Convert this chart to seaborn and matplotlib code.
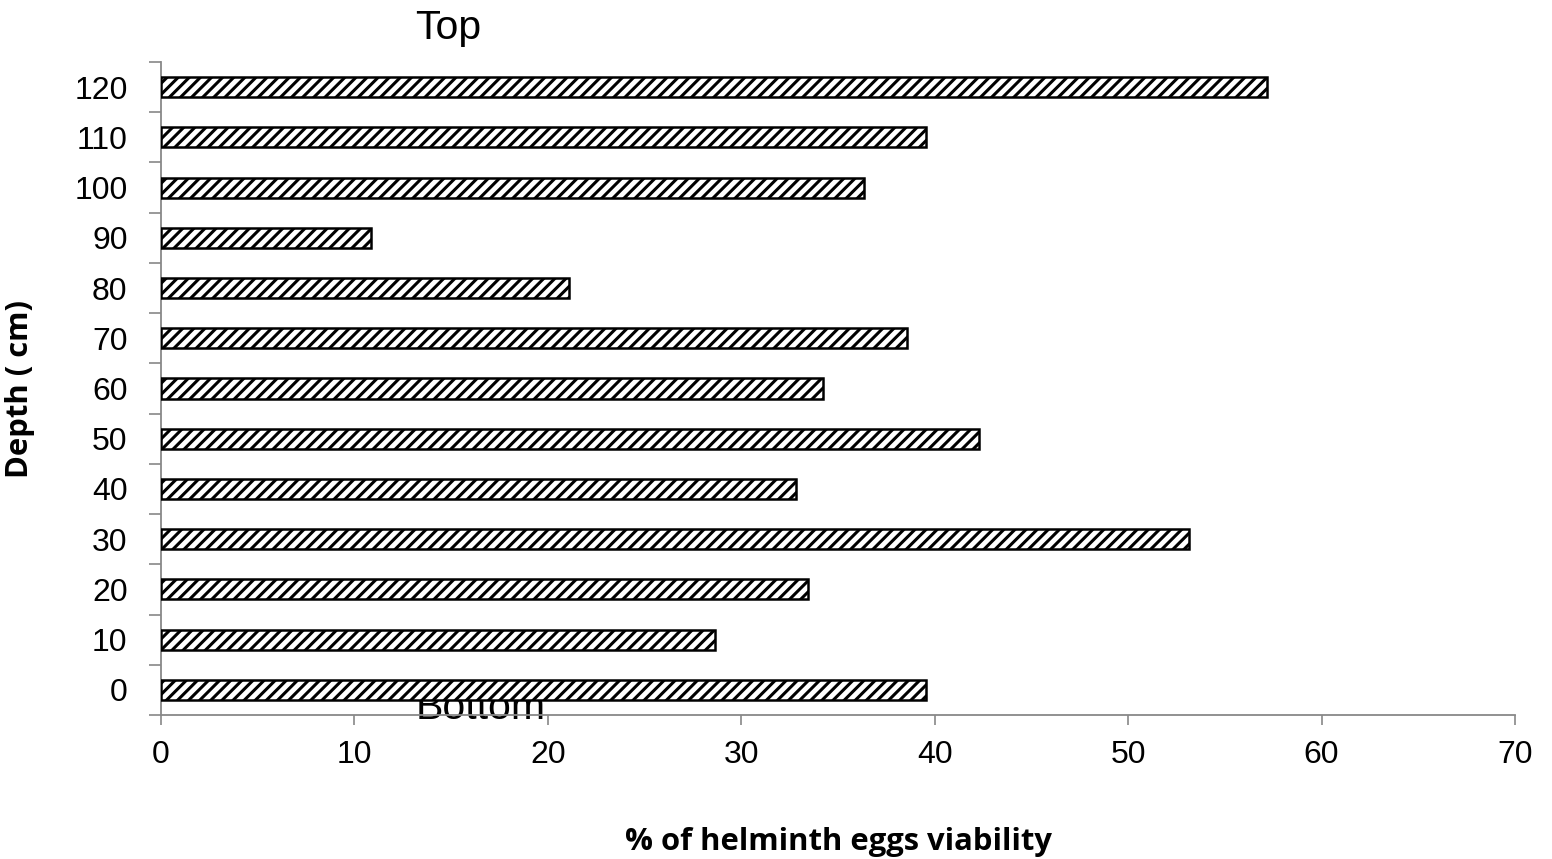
import numpy as np
import pandas as pd
import matplotlib
matplotlib.use("Agg")
import matplotlib.pyplot as plt
import seaborn as sns

# Depth categories (top of column first) and viability values
depths = ['120', '110', '100', '90', '80', '70', '60', '50', '40', '30', '20', '10', '0']
viability = [57.2, 39.55, 36.35, 10.86, 21.1, 38.57, 34.23, 42.3, 32.83, 53.15, 33.45, 28.65, 39.55]
x_ticks = [0, 10, 20, 30, 40, 50, 60, 70]

df = pd.DataFrame({'depth': depths, 'viability': viability})

sns.set_style('white')
plt.rcParams['font.family'] = ['Liberation Sans', 'DejaVu Sans']
plt.rcParams['hatch.linewidth'] = 2.2
plt.rcParams['hatch.color'] = 'black'
plt.rcParams['text.color'] = 'black'
plt.rcParams['axes.labelcolor'] = 'black'
plt.rcParams['xtick.color'] = 'black'
plt.rcParams['ytick.color'] = 'black'

fig = plt.figure(figsize=(15.52, 8.59), dpi=100)
ax = fig.add_axes([0.1037, 0.1676, 0.8725, 0.7602])

sns.barplot(data=df, x='viability', y='depth', order=depths, orient='h',
            color='white', width=0.4, edgecolor='black', linewidth=1.8,
            hatch='///', ax=ax, zorder=3)

ax.set_xlim(0, 70)
ax.set_ylim(12.5, -0.5)
ax.set_xticks(x_ticks)
ax.set_xticklabels([str(t) for t in x_ticks])
ax.tick_params(axis='x', length=7, width=1.2, color='#888888', direction='out',
               labelsize=23, pad=11, bottom=True)
ax.tick_params(axis='y', which='major', length=0, labelsize=23, pad=24)
ax.set_yticks(np.arange(-0.5, 13, 1), minor=True)
ax.tick_params(axis='y', which='minor', length=9, width=1.2, color='#888888',
               direction='out', left=True)

for s in ['top', 'right']:
    ax.spines[s].set_visible(False)
for s in ['left', 'bottom']:
    ax.spines[s].set_color('#888888')
    ax.spines[s].set_linewidth(1.3)

ax.set_xlabel('% of helminth eggs viability', fontsize=22.3, fontweight='bold',
              family=['Open Sans', 'DejaVu Sans'], labelpad=41)
ax.set_ylabel('Depth ( cm)', fontsize=22.3, fontweight='bold',
              family=['Open Sans', 'DejaVu Sans'], labelpad=28)

ax.text(14.85, 1.052, 'Top', transform=ax.get_xaxis_transform(),
        ha='center', va='center', fontsize=29.5, clip_on=False)
ax.text(16.55, -0.006, 'Bottom', transform=ax.get_xaxis_transform(),
        ha='center', va='baseline', fontsize=29.5, clip_on=False, zorder=1)

fig.savefig('out.png', dpi=100)
